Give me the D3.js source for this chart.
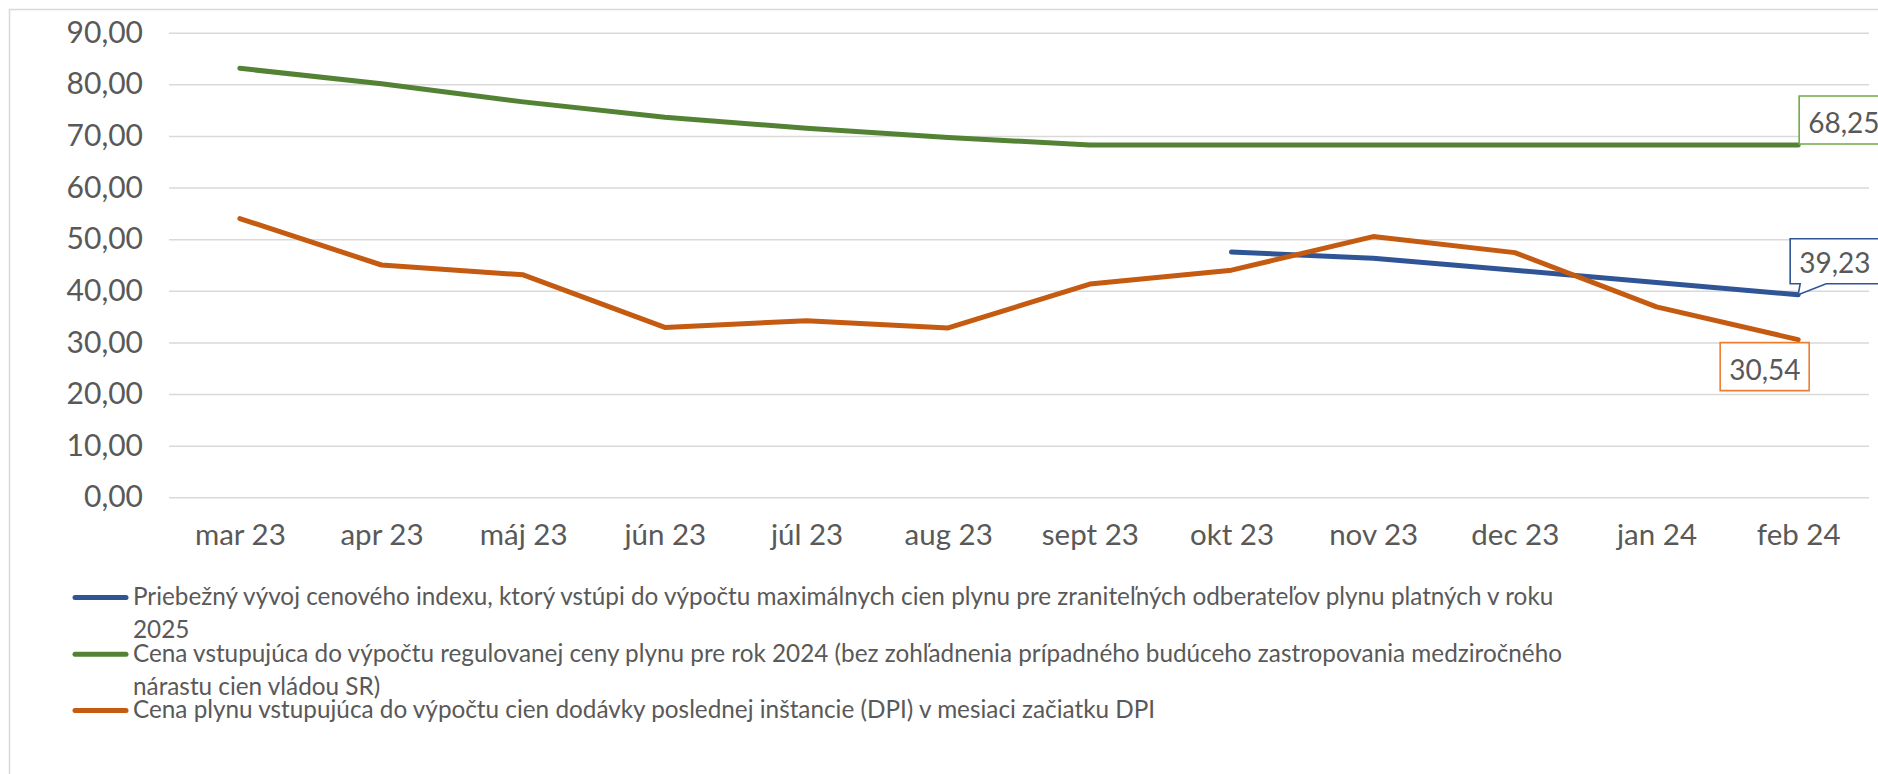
<!DOCTYPE html>
<html>
<head>
<meta charset="utf-8">
<script src="https://cdn.jsdelivr.net/npm/d3@7"></script>
<style>
  body { margin: 0; background: #fff; }
  svg { display: block; }
</style>
</head>
<body>
<script>
var mesiace = ["mar 23", "apr 23", "máj 23", "jún 23", "júl 23", "aug 23", "sept 23", "okt 23", "nov 23", "dec 23", "jan 24", "feb 24"];

var indexCeny = [null, null, null, null, null, null, null, 47.5, 46.3, 44.0, 41.6, 39.23];
var regulovanaCena = [83.1, 80.1, 76.6, 73.6, 71.5, 69.7, 68.25, 68.25, 68.25, 68.25, 68.25, 68.25];
var cenaDPI = [54.0, 45.0, 43.1, 32.9, 34.2, 32.8, 41.3, 44.0, 50.5, 47.4, 36.9, 30.54];

var yTicks = [0, 10, 20, 30, 40, 50, 60, 70, 80, 90];

var legenda = [
    ["Priebežný vývoj cenového indexu, ktorý vstúpi do výpočtu maximálnych cien plynu pre zraniteľných odberateľov plynu platných v roku", "2025"],
    ["Cena vstupujúca do výpočtu regulovanej ceny plynu pre rok 2024 (bez zohľadnenia prípadného budúceho zastropovania medziročného", "nárastu cien vládou SR)"],
    ["Cena plynu vstupujúca do výpočtu cien dodávky poslednej inštancie (DPI) v mesiaci začiatku DPI"]
];

function graficar() {
    var width = 1878;
    var height = 774;
    var font = "Lato, 'Open Sans', sans-serif";
    var textColor = "#595959";

    var svg = d3.select('body')
        .append('svg')
        .attr('width', width)
        .attr('height', height);

    // ramik okolo grafu
    svg.append('rect')
        .attr('x', 9.5).attr('y', 9.5)
        .attr('width', width + 20).attr('height', height + 20)
        .attr('fill', 'none')
        .attr('stroke', '#d9d9d9')
        .attr('stroke-width', 1.5);

    var x = d3.scalePoint()
        .domain(mesiace)
        .range([169, 1869])
        .padding(0.5);

    var y = d3.scaleLinear()
        .domain([0, 90])
        .range([497.3, 32.7]);

    var sk = d3.formatLocale({decimal: ",", thousands: " ", grouping: [3], currency: ["", " €"]});
    var fmt = sk.format(".2f");

    // mriezka + popisy osi y
    var yAxis = d3.axisLeft(y)
        .tickValues(yTicks)
        .tickSize(-(1869 - 169))
        .tickPadding(26)
        .tickFormat(fmt);

    var gy = svg.append('g')
        .attr('transform', 'translate(169,0)')
        .call(yAxis);
    gy.select('.domain').remove();
    gy.selectAll('.tick line').attr('stroke', '#d9d9d9').attr('stroke-width', 1.6);
    gy.selectAll('.tick text')
        .attr('fill', textColor)
        .style('font-family', font)
        .style('font-size', '30px');

    var xAxis = d3.axisBottom(x).tickSize(0).tickPadding(27);
    var gx = svg.append('g')
        .attr('transform', 'translate(0,' + y(0) + ')')
        .call(xAxis);
    gx.select('.domain').remove();
    gx.selectAll('.tick text')
        .attr('fill', textColor)
        .style('font-family', font)
        .style('font-size', '29.5px');

    var serie = [
        {data: indexCeny, color: '#2f5597', box: '#2f5597'},
        {data: regulovanaCena, color: '#548235', box: '#70ad47'},
        {data: cenaDPI, color: '#c55a11', box: '#ed7d31'}
    ];

    var line = d3.line()
        .defined(function (d) { return d != null; })
        .x(function (d, i) { return x(mesiace[i]); })
        .y(function (d) { return y(d); });

    serie.forEach(function (s) {
        svg.append('path')
            .datum(s.data)
            .attr('d', line)
            .attr('fill', 'none')
            .attr('stroke', s.color)
            .attr('stroke-width', 5)
            .attr('stroke-linecap', 'round')
            .attr('stroke-linejoin', 'round');
    });

    // popisky poslednej hodnoty
    var last = mesiace.length - 1;
    var px = x(mesiace[last]);

    function popisok(s, dx, dy, w, h, tail) {
        var v = s.data[last];
        var py = y(v);
        var bx = px + dx, by = py + dy;
        var path;
        if (tail) {
            path = 'M' + bx + ',' + by + 'H' + (bx + w) + 'V' + (by + h) +
                'H' + (px + 28) + 'L' + px + ',' + py + 'L' + (px + 2) + ',' + (by + h) +
                'H' + bx + 'Z';
        } else {
            path = 'M' + bx + ',' + by + 'h' + w + 'v' + h + 'h' + (-w) + 'Z';
        }
        svg.append('path')
            .attr('d', path)
            .attr('fill', '#fff')
            .attr('stroke', s.box)
            .attr('stroke-width', 1.6);
        svg.append('text')
            .attr('x', bx + 9)
            .attr('y', by + h - 11)
            .attr('fill', textColor)
            .style('font-family', font)
            .style('font-size', '28px')
            .text(fmt(v));
    }

    popisok(serie[1], 1, -49, 110, 48, false);
    popisok(serie[0], -8, -56, 110, 45, true);
    popisok(serie[2], -78, 3, 89, 48, false);

    // legenda
    var riadky = [[605, 638.3], [661.7, 695], [718]];
    legenda.forEach(function (txt, i) {
        var base = riadky[i][0];
        svg.append('line')
            .attr('x1', 75).attr('x2', 126)
            .attr('y1', base - 7.5).attr('y2', base - 7.5)
            .attr('stroke', serie[i].color)
            .attr('stroke-width', 5)
            .attr('stroke-linecap', 'round');
        txt.forEach(function (t, j) {
            svg.append('text')
                .attr('x', 133)
                .attr('y', riadky[i][j])
                .attr('fill', textColor)
                .style('font-family', font)
                .style('font-size', '24.3px')
                .text(t);
        });
    });
}

graficar();
</script>
</body>
</html>
